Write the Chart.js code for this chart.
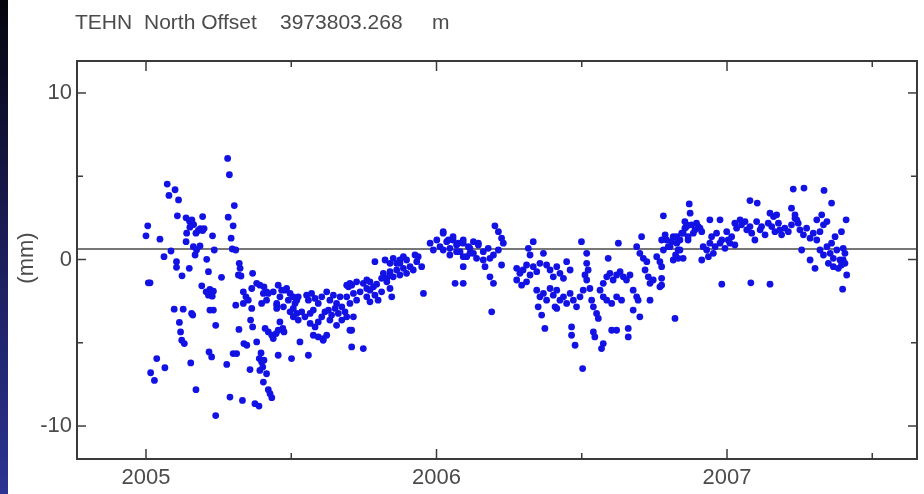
<!DOCTYPE html>
<html>
<head>
<meta charset="utf-8">
<script src="https://cdn.jsdelivr.net/npm/chart.js@4.4.1/dist/chart.umd.min.js"></script>
<style>
html,body{margin:0;padding:0;background:#fff;overflow:hidden;}
canvas{display:block;}
</style>
</head>
<body>
<canvas id="c" width="924" height="494"></canvas>
<script>
// ---- data (decimal year, north offset in mm) ----
const obs2005 = [
[2005.006,2.02],[2005.000,1.42],[2005.008,-1.40],[2005.014,-1.40],[2005.037,-5.95],[2005.016,-6.80],[2005.029,-7.26],[2005.065,-6.50],[2005.048,1.22],[2005.062,0.17],
[2005.086,0.51],[2005.073,4.53],[2005.079,3.85],[2005.100,4.19],[2005.112,3.58],[2005.108,2.62],[2005.105,-0.13],[2005.105,-0.47],[2005.124,-0.98],[2005.149,-0.53],
[2005.097,-2.98],[2005.128,-2.98],[2005.115,-3.78],[2005.119,-4.35],[2005.123,-4.85],[2005.132,-5.05],[2005.157,-3.24],[2005.161,-3.34],[2005.154,-6.21],[2005.172,-7.82],
[2005.138,2.50],[2005.150,2.30],[2005.158,2.38],[2005.164,2.10],[2005.140,1.58],[2005.138,1.07],[2005.151,1.94],[2005.172,1.58],[2005.180,1.74],[2005.187,1.86],
[2005.195,1.74],[2005.200,1.86],[2005.163,0.77],[2005.169,0.27],[2005.174,0.57],[2005.186,0.81],[2005.195,2.58],[2005.229,1.42],[2005.235,0.57],[2005.209,0.01],
[2005.215,-0.73],[2005.192,-1.58],[2005.207,-1.94],[2005.215,-2.14],[2005.220,-1.80],[2005.228,-2.20],[2005.232,-1.90],[2005.220,-3.04],[2005.232,-3.04],[2005.240,-3.95],
[2005.217,-5.55],[2005.226,-5.85],[2005.260,-1.07],[2005.240,-9.37],[2005.281,6.07],[2005.287,5.09],[2005.304,3.24],[2005.283,2.54],[2005.300,2.02],[2005.293,1.28],
[2005.297,0.63],[2005.309,0.57],[2005.321,-0.23],[2005.324,-0.53],[2005.318,-0.93],[2005.327,-0.99],[2005.309,-2.74],[2005.320,-4.20],[2005.278,-6.30],[2005.300,-5.65],
[2005.312,-5.65],[2005.289,-8.26],[2005.332,-8.46],[2005.375,-8.66],[2005.389,-8.80],[2005.335,-1.94],[2005.344,-2.24],[2005.352,-2.44],[2005.367,-0.83],[2005.364,-2.94],
[2005.360,-3.64],[2005.367,-4.05],[2005.337,-5.05],[2005.347,-5.15],[2005.381,-4.95],[2005.396,-5.61],[2005.390,-5.95],[2005.398,-6.16],[2005.406,-6.05],[2005.358,-6.61],
[2005.392,-6.66],[2005.402,-6.46],[2005.415,-6.86],[2005.404,-7.36],[2005.421,-7.82],[2005.427,-8.06],[2005.433,-8.30],[2005.381,-1.43],[2005.392,-1.54],[2005.406,-1.64],
[2005.415,-1.94],[2005.398,-2.64],[2005.410,-4.14],[2005.421,-4.35],[2005.433,-4.55],[2005.438,-4.75],[2005.448,-4.45],[2005.455,-4.25],[2005.471,-4.14],[2005.438,-1.94],
[2005.455,-1.54],[2005.467,-1.84],[2005.484,-1.74],[2005.496,-2.04],[2005.507,-2.24],[2005.519,-2.44],[2005.450,-2.74],[2005.461,-3.75],[2005.475,-4.35],[2005.455,-5.75],
[2005.501,-5.95],[2005.519,-3.24],[2005.524,-3.64],[2005.404,-2.04],[2005.415,-2.44],[2005.450,-2.64],[2005.461,-2.24],[2005.473,-2.84],[2005.478,-1.84],[2005.490,-2.44],
[2005.496,-3.14],[2005.507,-3.44],[2005.513,-2.64],[2005.524,-2.24],[2005.364,-1.74],[2005.335,-2.64],[2005.421,-2.04],[2005.507,-2.94],[2005.450,-2.94],[2005.553,-2.14],
[2005.559,-2.44],[2005.570,-2.04],[2005.582,-2.34],[2005.593,-2.64],[2005.530,-4.95],[2005.559,-5.75],[2005.536,-3.14],[2005.547,-3.44],[2005.565,-3.24],[2005.576,-3.04],
[2005.565,-3.84],[2005.582,-4.05],[2005.593,-3.75],[2005.605,-3.44],[2005.616,-3.14],[2005.576,-4.55],[2005.593,-4.65],[2005.610,-4.85],[2005.622,-4.55],[2005.605,-2.24],
[2005.622,-1.94],[2005.633,-2.44],[2005.645,-2.14],[2005.656,-2.64],[2005.668,-2.24],[2005.628,-3.04],[2005.639,-3.34],[2005.651,-2.94],[2005.662,-3.24],[2005.674,-2.84],
[2005.685,-3.14],[2005.633,-3.64],[2005.656,-3.95],[2005.674,-3.64],[2005.691,-3.44],[2005.691,-2.24],[2005.702,-2.64],[2005.714,-2.04],[2005.725,-2.44],[2005.737,-1.94],
[2005.697,-1.64],[2005.708,-1.54],[2005.708,-4.25],[2005.714,-3.44],[2005.708,-5.25],[2005.748,-5.35],[2005.748,-1.43],[2005.760,-1.74],[2005.771,-1.34],[2005.783,-1.64],
[2005.794,-1.48],[2005.760,-2.24],[2005.771,-2.54],[2005.788,-2.14],[2005.799,-2.44],[2005.811,-1.94],[2005.788,-0.13],[2005.823,-0.03],[2005.840,-0.23],[2005.851,0.07],
[2005.863,-0.23],[2005.874,-0.03],[2005.886,0.17],[2005.817,-0.83],[2005.829,-1.13],[2005.840,-0.73],[2005.851,-1.04],[2005.863,-0.63],[2005.874,-0.93],[2005.886,-0.53],
[2005.897,-0.83],[2005.909,-0.43],[2005.920,-0.63],[2005.932,-0.13],[2005.840,-1.74],[2005.846,-2.24],[2005.955,-2.04],[2005.937,0.17],[2005.949,-0.43],[2005.978,0.98],
[2005.989,0.57],[2005.610,-4.75],[2005.702,-4.25],[2005.691,-1.54],[2005.702,-1.43],[2005.725,-1.34],[2005.760,-1.23],[2005.771,-1.84],[2005.811,-1.13],[2005.829,-1.34],
[2005.840,-0.93],[2005.874,-0.23],[2005.897,-0.03],[2005.926,0.27]
];
const obs2006 = [
[2006.001,1.17],[2006.012,0.77],[2006.023,1.67],[2006.035,1.07],[2006.046,0.67],[2006.057,1.17],[2006.069,0.87],[2006.081,0.47],[2006.092,0.98],
[2006.104,0.17],[2006.115,0.67],[2006.127,0.37],[2006.144,0.98],[2006.064,-1.43],[2006.092,-1.43],[2006.023,1.58],
[2006.041,1.17],[2006.057,1.37],[2006.075,0.98],[2006.092,1.17],[2006.110,0.77],[2006.127,1.07],[2006.144,0.87],[2006.161,0.47],[2006.178,0.67],[2006.196,0.27],
[2006.213,0.57],[2006.230,0.98],[2006.023,0.57],[2006.046,0.27],[2006.069,0.47],[2006.092,0.17],[2006.115,0.37],[2006.138,0.07],[2006.161,-0.03],[2006.184,0.07],
[2006.092,-0.43],[2006.167,-0.43],[2006.184,-1.04],[2006.196,-1.43],[2006.190,-3.14],[2006.201,2.02],[2006.213,1.67],[2006.224,1.28],[2006.224,-0.33],[2006.316,0.67],
[2006.333,1.07],[2006.322,0.27],[2006.276,-0.53],[2006.287,-0.83],[2006.298,-0.63],[2006.310,-0.33],[2006.322,-0.93],[2006.333,-0.43],[2006.345,-0.73],[2006.356,-0.23],
[2006.368,0.37],[2006.379,-0.33],[2006.391,-0.63],[2006.402,-1.04],[2006.414,-0.43],[2006.425,-0.83],[2006.437,-1.13],[2006.448,-0.13],[2006.460,-0.63],[2006.276,-1.23],
[2006.293,-1.54],[2006.310,-1.34],[2006.345,-1.84],[2006.356,-2.24],[2006.368,-2.04],[2006.379,-2.44],[2006.391,-1.74],[2006.402,-2.14],[2006.414,-1.84],[2006.425,-2.44],
[2006.437,-2.24],[2006.448,-2.64],[2006.460,-2.04],[2006.471,-2.44],[2006.482,-2.84],[2006.350,-2.84],[2006.362,-3.34],[2006.408,-2.84],[2006.414,-2.94],[2006.373,-4.14],
[2006.465,-4.05],[2006.465,-4.55],[2006.477,-5.15],[2006.499,1.07],[2006.517,0.37],[2006.517,-0.23],[2006.522,-0.63],[2006.511,-0.93],[2006.517,-1.23],[2006.528,-1.74],
[2006.505,-1.84],[2006.494,-2.24],[2006.503,-6.55],[2006.534,-2.44],[2006.540,-2.84],[2006.551,-3.24],[2006.557,-3.54],[2006.540,-4.35],[2006.545,-4.65],[2006.574,-5.05],
[2006.568,-5.35],[2006.574,-1.43],[2006.586,-1.04],[2006.597,-0.83],[2006.608,-1.23],[2006.620,-0.93],[2006.632,-0.73],[2006.643,-1.04],[2006.654,-1.23],[2006.666,-0.93],
[2006.563,-1.84],[2006.574,-2.24],[2006.586,-2.44],[2006.603,-2.64],[2006.620,-2.24],[2006.637,-2.44],[2006.591,0.07],[2006.603,-4.25],[2006.620,-4.25],[2006.660,-4.14],
[2006.660,-4.65],[2006.626,0.98],[2006.677,-1.84],[2006.689,-2.24],[2006.694,-2.44],[2006.700,-3.44],[2006.677,-3.04],[2006.706,1.37],[2006.689,0.77],[2006.700,0.37],
[2006.712,0.07],[2006.724,-0.13],[2006.718,-0.63],[2006.729,-1.04],[2006.735,-1.43],[2006.746,-1.23],[2006.735,-2.44],[2006.769,-1.64],[2006.775,-1.13],[2006.758,0.17],
[2006.769,-0.13],[2006.781,0.57],[2006.792,1.17],[2006.804,0.77],[2006.815,1.37],[2006.827,0.98],[2006.838,0.57],[2006.781,2.62],[2006.821,-3.54],[2006.815,-0.03],
[2006.832,0.07],[2006.855,2.28],[2006.861,1.98],[2006.849,1.58],[2006.866,1.17],[2006.775,1.17],[2006.787,1.48],[2006.775,-0.43],[2006.775,-1.54],[2006.798,0.77],
[2006.809,1.07],[2006.823,0.27],[2006.832,0.57],[2006.849,0.07],[2006.838,1.17],[2006.827,1.37],[2006.844,1.58],[2006.855,1.88],[2006.861,2.08],[2006.866,1.37],
[2006.870,3.34],[2006.873,2.78],[2006.878,2.08],[2006.890,1.78],[2006.901,1.98],[2006.913,1.67],[2006.884,1.58],[2006.907,1.88],[2006.895,2.18],[2006.913,-0.03],
[2006.918,0.77],[2006.930,0.57],[2006.941,0.98],[2006.953,0.37],[2006.936,0.17],[2006.941,2.38],[2006.976,2.38],[2006.947,1.37],[2006.964,1.58],[2006.982,1.17],
[2006.999,1.67],[2006.959,0.77],[2006.976,0.98],[2006.993,0.67],[2006.982,-1.48]
];
const obs2007 = [
[2007.016,1.37],[2007.033,1.88],[2007.050,2.08],[2007.068,1.78],[2007.010,0.98],[2007.027,0.87],
[2007.004,1.17],[2007.045,2.38],[2007.027,2.18],[2007.062,2.28],[2007.079,1.98],[2007.079,3.54],[2007.104,3.39],[2007.085,1.58],[2007.096,1.17],
[2007.114,1.78],[2007.102,2.28],[2007.119,1.98],[2007.131,1.48],[2007.142,2.18],[2007.148,2.78],[2007.082,-1.40],[2007.148,-1.48],[2007.154,1.98],[2007.165,1.67],
[2007.177,2.18],[2007.160,2.58],[2007.171,2.68],[2007.182,1.78],[2007.188,1.48],[2007.199,1.88],[2007.211,1.67],[2007.222,2.08],[2007.234,2.48],[2007.245,2.18],
[2007.222,3.08],[2007.228,4.23],[2007.265,4.29],[2007.234,2.68],[2007.240,2.38],[2007.251,1.78],[2007.263,1.48],[2007.274,1.88],[2007.286,1.28],[2007.297,1.58],
[2007.309,1.17],[2007.320,1.67],[2007.257,0.57],[2007.286,-0.03],[2007.303,-0.53],[2007.309,2.38],[2007.326,2.68],[2007.332,2.08],[2007.344,2.28],[2007.334,4.15],
[2007.360,3.39],[2007.320,0.57],[2007.332,0.27],[2007.344,0.77],[2007.355,0.37],[2007.366,0.07],[2007.378,0.57],[2007.389,-0.03],[2007.360,0.98],[2007.372,1.37],
[2007.349,-0.23],[2007.366,-0.43],[2007.383,-0.53],[2007.394,-0.33],[2007.400,-0.03],[2007.406,0.37],[2007.400,0.67],[2007.394,1.67],[2007.410,2.38],[2007.406,-0.23],
[2007.412,-0.93],[2007.398,-1.78]
];
const meanOffsetMm = 0.63;
const yearTicks = [2005, 2006, 2007];
const halfYearTicks = [2005.5, 2006.5, 2007.5];
const mmTicks = [-10, 0, 10];
const halfMmTicks = [-5, 5];
const xRange = [2004.7625, 2007.654];
const yRange = [-11.98, 11.92];
const titleParts = ['TEHN', 'North Offset', '3973803.268', 'm'];
const yAxisLabel = '(mm)';

// ---- chart ----
const points = obs2005.concat(obs2006, obs2007).map(p => ({x: p[0], y: p[1]}));
const FONT = '"Liberation Sans", Arial, sans-serif';
const TXT = '#4b4b4b';

const framePlugin = {
  id: 'frame',
  beforeDraw(chart) {
    const ctx = chart.ctx, W = chart.width, H = chart.height;
    ctx.save();
    ctx.fillStyle = '#ffffff';
    ctx.fillRect(0, 0, W, H);
    const g = ctx.createLinearGradient(0, 0, 0, H);
    g.addColorStop(0, '#05050d');
    g.addColorStop(0.45, '#1a1b52');
    g.addColorStop(1, '#2c3392');
    ctx.fillStyle = g;
    ctx.fillRect(0, 0, 8, H);
    ctx.restore();
  },
  afterDraw(chart) {
    const ctx = chart.ctx, a = chart.chartArea;
    const xs = chart.scales.x, ys = chart.scales.y;
    ctx.save();
    ctx.strokeStyle = '#3c3c3c';
    ctx.lineWidth = 1.5;
    const tick = (x1, y1, x2, y2) => { ctx.beginPath(); ctx.moveTo(x1, y1); ctx.lineTo(x2, y2); ctx.stroke(); };
    yearTicks.forEach(v => { const p = xs.getPixelForValue(v); tick(p, a.bottom, p, a.bottom - 10); tick(p, a.top, p, a.top + 10); });
    halfYearTicks.forEach(v => { const p = xs.getPixelForValue(v); tick(p, a.bottom, p, a.bottom - 6); tick(p, a.top, p, a.top + 6); });
    mmTicks.forEach(v => { const p = ys.getPixelForValue(v); tick(a.left, p, a.left + 9, p); tick(a.right, p, a.right - 9, p); });
    halfMmTicks.forEach(v => { const p = ys.getPixelForValue(v); tick(a.left, p, a.left + 6, p); tick(a.right, p, a.right - 6, p); });
    ctx.lineWidth = 2;
    ctx.strokeStyle = '#3a3a3a';
    ctx.strokeRect(a.left, a.top, a.right - a.left, a.bottom - a.top);
    // title
    ctx.fillStyle = TXT;
    ctx.font = '21px ' + FONT;
    ctx.textBaseline = 'alphabetic';
    ctx.textAlign = 'left';
    const tx = [75, 144, 280, 432];
    titleParts.forEach((t, i) => ctx.fillText(t, tx[i], 29));
    // y label
    ctx.save();
    ctx.translate(27, 258);
    ctx.rotate(-Math.PI / 2);
    ctx.textAlign = 'center';
    ctx.textBaseline = 'middle';
    ctx.font = '22px ' + FONT;
    ctx.fillText(yAxisLabel, 0, 0);
    ctx.restore();
    ctx.restore();
  }
};

new Chart(document.getElementById('c'), {
  type: 'scatter',
  data: {
    datasets: [
      {
        label: 'North',
        data: points,
        backgroundColor: '#1212e4',
        borderWidth: 0,
        pointRadius: 3.4,
        order: 0
      },
      {
        type: 'line',
        label: 'mean',
        data: [{x: xRange[0], y: meanOffsetMm}, {x: xRange[1], y: meanOffsetMm}],
        borderColor: '#4a4a4a',
        borderWidth: 1.5,
        pointRadius: 0,
        fill: false,
        order: 1
      }
    ]
  },
  options: {
    responsive: false,
    animation: false,
    devicePixelRatio: 1,
    layout: {padding: {left: 0, top: 61, right: 7, bottom: 0}},
    plugins: {legend: {display: false}, tooltip: {enabled: false}, title: {display: false}},
    scales: {
      x: {
        type: 'linear',
        min: xRange[0], max: xRange[1],
        afterFit(s) { s.height = 35; },
        afterBuildTicks(s) { s.ticks = yearTicks.map(v => ({value: v})); },
        grid: {display: false, drawTicks: false},
        border: {display: false},
        ticks: {callback: v => String(v), color: TXT, font: {family: FONT, size: 22}, padding: 6, maxRotation: 0, autoSkip: false}
      },
      y: {
        type: 'linear',
        min: yRange[0], max: yRange[1],
        afterFit(s) { s.width = 77; },
        afterBuildTicks(s) { s.ticks = mmTicks.map(v => ({value: v})); },
        grid: {display: false, drawTicks: false},
        border: {display: false},
        ticks: {callback: v => String(v), color: TXT, font: {family: FONT, size: 22}, padding: 5, autoSkip: false}
      }
    }
  },
  plugins: [framePlugin]
});
</script>
</body>
</html>
